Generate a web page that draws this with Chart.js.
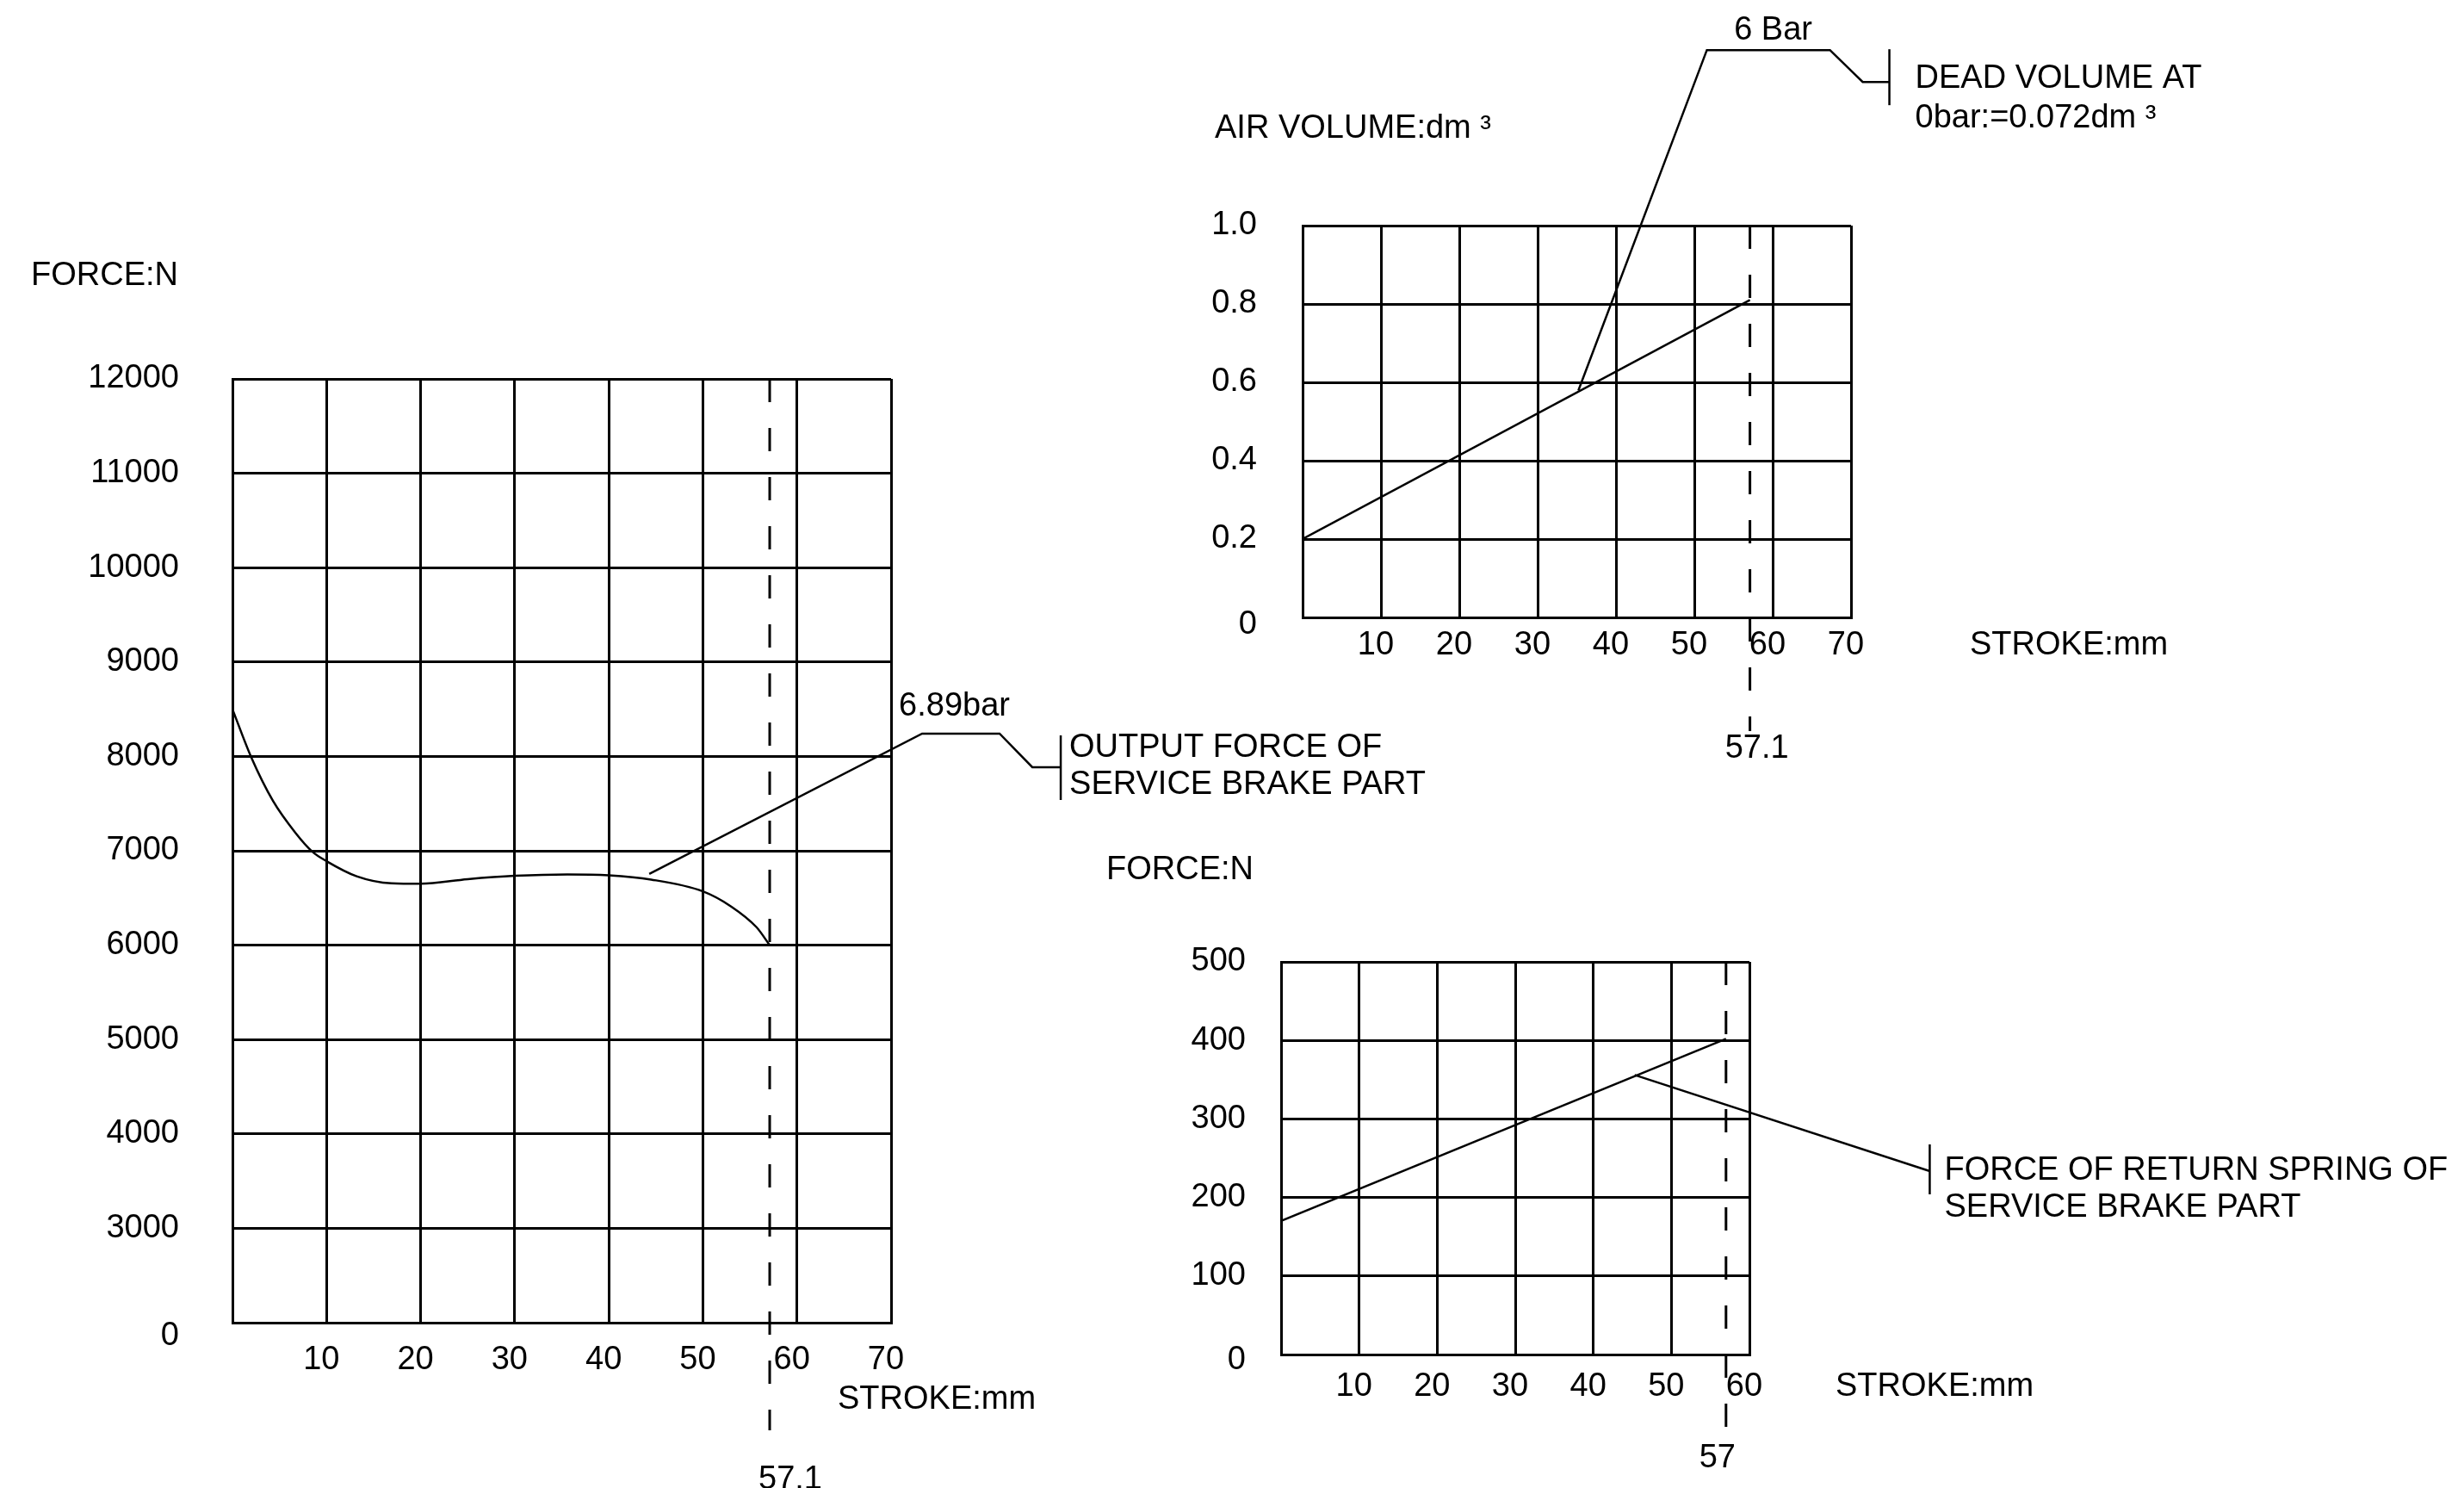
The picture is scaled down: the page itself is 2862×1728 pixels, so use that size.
<!DOCTYPE html>
<html><head><meta charset="utf-8">
<script src="https://cdn.jsdelivr.net/npm/chart.js@4/dist/chart.umd.min.js"></script>
<style>
html,body{margin:0;padding:0;background:#fff;}
#wrap{position:relative;width:2862px;height:1728px;overflow:hidden;background:#fff;}
canvas{position:absolute;left:0;top:0;}
</style></head><body><div id="wrap">
<canvas id="cForce" width="2862" height="1728"></canvas>
<canvas id="cVolume" width="2862" height="1728"></canvas>
<canvas id="cSpring" width="2862" height="1728"></canvas>
</div>
<script>
// ---------- DATA ----------
// Output force of service brake part (6.89 bar)
const outputStroke = [0, 2, 4.3, 6.7, 8.5, 10, 13.2, 16.9, 20, 25, 30, 35.6, 40, 44.5, 50, 53, 55.7, 57.1];
const outputForce  = [8500, 7990, 7530, 7190, 6990, 6890, 6730, 6655, 6650, 6700, 6735, 6750, 6740, 6695, 6570, 6410, 6190, 6000];
const outputForceTicks  = [2000, 3000, 4000, 5000, 6000, 7000, 8000, 9000, 10000, 11000, 12000];
const outputForceLabels = ['0', '3000', '4000', '5000', '6000', '7000', '8000', '9000', '10000', '11000', '12000'];
const outputStrokeTicks = [0, 10, 20, 30, 40, 50, 60, 70];
const outputMarker = 57.1;

// Air volume (6 bar)
const volumeStroke = [0, 57.1];
const volumeValues = [0.2, 0.81];
const volumeTicks  = [0, 0.2, 0.4, 0.6, 0.8, 1.0];
const volumeLabels = ['0', '0.2', '0.4', '0.6', '0.8', '1.0'];
const volumeStrokeTicks = [0, 10, 20, 30, 40, 50, 60, 70];
const volumeMarker = 57.1;

// Force of return spring
const springStroke = [0, 57];
const springForce  = [170, 402];
const springTicks  = [0, 100, 200, 300, 400, 500];
const springStrokeTicks = [0, 10, 20, 30, 40, 50, 60];
const springMarker = 57;

// ---------- STYLE ----------
const FAMILY = "'Liberation Sans', Arial, sans-serif";
const FSIZE = 38;
Chart.defaults.font.family = FAMILY;
Chart.defaults.font.size = FSIZE;
Chart.defaults.color = '#000';

const cadPlugin = {
  id: 'cad',
  afterDatasetsDraw(chart, args, o) {
    const ctx = chart.ctx, a = chart.chartArea, xs = chart.scales.x, ys = chart.scales.y;
    ctx.save();
    ctx.fillStyle = '#000'; ctx.strokeStyle = '#000';
    ctx.font = FSIZE + 'px ' + FAMILY;
    ctx.textBaseline = 'middle';
    ctx.lineCap = 'butt';
    // dashed stroke marker
    if (o.marker) {
      const m = o.marker, px = xs.getPixelForValue(m.value);
      ctx.lineWidth = 3; ctx.setLineDash([27, 30]);
      ctx.beginPath(); ctx.moveTo(px, a.top); ctx.lineTo(px, a.bottom + m.extend); ctx.stroke();
      ctx.setLineDash([]);
      ctx.textAlign = 'center';
      ctx.fillText(m.label, px + m.labelDx, a.bottom + m.labelDy);
    }
    // free texts relative to chart area
    (o.texts || []).forEach(t => {
      const x = (t.refX === 'right' ? a.right : a.left) + t.dx;
      const y = (t.refY === 'bottom' ? a.bottom : a.top) + t.dy;
      ctx.textAlign = t.align || 'left';
      ctx.fillText(t.text, x, y);
    });
    // callout leader
    if (o.callout) {
      const c = o.callout;
      const ax = xs.getPixelForValue(c.anchor[0]), ay = ys.getPixelForValue(c.anchor[1]);
      const ex = xs.getPixelForValue(c.elbow[0]), ey = ys.getPixelForValue(c.elbow[1]);
      ctx.lineWidth = 2.5; ctx.lineJoin = 'miter';
      ctx.beginPath(); ctx.moveTo(ax, ay); ctx.lineTo(ex, ey);
      c.path.forEach(p => ctx.lineTo(ex + p[0], ey + p[1]));
      ctx.stroke();
      ctx.beginPath(); ctx.moveTo(ex + c.bar[0], ey + c.bar[1]); ctx.lineTo(ex + c.bar[0], ey + c.bar[2]); ctx.stroke();
      c.texts.forEach(t => {
        ctx.textAlign = t.align || 'left';
        ctx.fillText(t.text, ex + t.dx, ey + t.dy);
      });
    }
    ctx.restore();
  }
};

function fixTicks(arr) { return s => { s.ticks = arr.map(v => ({ value: v })); }; }

function makeChart(id, c) {
  const pts = c.xs.map((x, i) => ({ x: x, y: c.ys[i] }));
  return new Chart(document.getElementById(id), {
    type: 'line',
    data: { datasets: [{ data: pts, borderColor: '#000', borderWidth: 2.5, pointRadius: 0,
      tension: c.smooth ? 0.4 : 0, cubicInterpolationMode: c.smooth ? 'monotone' : 'default', fill: false }] },
    options: {
      responsive: false, animation: false, devicePixelRatio: 1,
      layout: { padding: c.padding },
      plugins: { legend: { display: false }, tooltip: { enabled: false }, cad: c.cad },
      scales: {
        x: {
          type: 'linear', min: c.xMin, max: c.xMax,
          afterBuildTicks: fixTicks(c.xTicks),
          afterFit: s => { s.height = 120; },
          grid: { color: '#000', lineWidth: 3, drawTicks: false },
          border: { color: '#000', width: 3 },
          ticks: { padding: c.xPad, labelOffset: -6, maxRotation: 0, autoSkip: false,
            callback: v => (v === c.xTicks[0] ? '' : String(v)) }
        },
        y: {
          type: 'linear', min: c.yMin, max: c.yMax,
          afterBuildTicks: fixTicks(c.yTicks),
          afterFit: s => { s.width = 250; },
          grid: { color: '#000', lineWidth: 3, drawTicks: false },
          border: { color: '#000', width: 3 },
          ticks: { padding: c.yPad, autoSkip: false, font: { size: FSIZE, lineHeight: c.zeroLH },
            callback: v => {
              const lbl = c.yLabels[c.yTicks.indexOf(v)];
              return v === c.yTicks[0] ? ['', lbl] : lbl;
            } }
        }
      }
    },
    plugins: [cadPlugin]
  });
}

// Left: output force
makeChart('cForce', {
  xs: outputStroke, ys: outputForce, smooth: true,
  xMin: 0, xMax: 70, xTicks: outputStrokeTicks,
  yMin: 2000, yMax: 12000, yTicks: outputForceTicks, yLabels: outputForceLabels,
  padding: { left: 20, top: 440, right: 1827, bottom: 72 },
  xPad: 21, yPad: 62, zeroLH: '32px',
  cad: {
    marker: { value: outputMarker, extend: 125, label: '57.1', labelDx: 24, labelDy: 183 },
    texts: [
      { text: 'FORCE:N', dx: -234, dy: -119 },
      { text: 'STROKE:mm', dx: 703, refY: 'bottom', dy: 90 }
    ],
    callout: {
      anchor: [44.3, 6754], elbow: [73.3, 8241],
      path: [[90, 0], [128, 39], [161, 39]],
      bar: [161, 2, 77],
      texts: [
        { text: '6.89bar', dx: -27, dy: -31 },
        { text: 'OUTPUT FORCE OF', dx: 171, dy: 17 },
        { text: 'SERVICE BRAKE PART', dx: 171, dy: 60 }
      ]
    }
  }
});

// Top right: air volume
makeChart('cVolume', {
  xs: volumeStroke, ys: volumeValues, smooth: false,
  xMin: 0, xMax: 70, xTicks: volumeStrokeTicks,
  yMin: 0, yMax: 1.0, yTicks: volumeTicks, yLabels: volumeLabels,
  padding: { left: 1263, top: 262, right: 712, bottom: 891 },
  xPad: 10, yPad: 53, zeroLH: '18px',
  cad: {
    marker: { value: volumeMarker, extend: 132, label: '57.1', labelDx: 8, labelDy: 153 },
    texts: [
      { text: 'AIR VOLUME:dm \u00B3', dx: -102, dy: -112 },
      { text: 'STROKE:mm', refX: 'right', dx: 138, refY: 'bottom', dy: 33 }
    ],
    callout: {
      anchor: [35.2, 0.579], elbow: [51.6, 1.448],
      path: [[143, 0], [181, 37], [212, 37]],
      bar: [212, -1, 64],
      texts: [
        { text: '6 Bar', dx: 77, dy: -23, align: 'center' },
        { text: 'DEAD VOLUME AT', dx: 242, dy: 33 },
        { text: '0bar:=0.072dm \u00B3', dx: 242, dy: 79 }
      ]
    }
  }
});

// Bottom right: return spring
makeChart('cSpring', {
  xs: springStroke, ys: springForce, smooth: false,
  xMin: 0, xMax: 60, xTicks: springStrokeTicks,
  yMin: 0, yMax: 500, yTicks: springTicks, yLabels: springTicks.map(String),
  padding: { left: 1238, top: 1117, right: 830, bottom: 35 },
  xPad: 15, yPad: 41, zeroLH: '14px',
  cad: {
    marker: { value: springMarker, extend: 91, label: '57', labelDx: -10, labelDy: 121 },
    texts: [
      { text: 'FORCE:N', dx: -203, dy: -106 },
      { text: 'STROKE:mm', refX: 'right', dx: 100, refY: 'bottom', dy: 38 }
    ],
    callout: {
      anchor: [45.3, 356], elbow: [83.1, 233.6],
      path: [],
      bar: [0, -31, 27],
      texts: [
        { text: 'FORCE OF RETURN SPRING OF', dx: 17, dy: 0 },
        { text: 'SERVICE BRAKE PART', dx: 17, dy: 43 }
      ]
    }
  }
});
</script>
</body></html>
